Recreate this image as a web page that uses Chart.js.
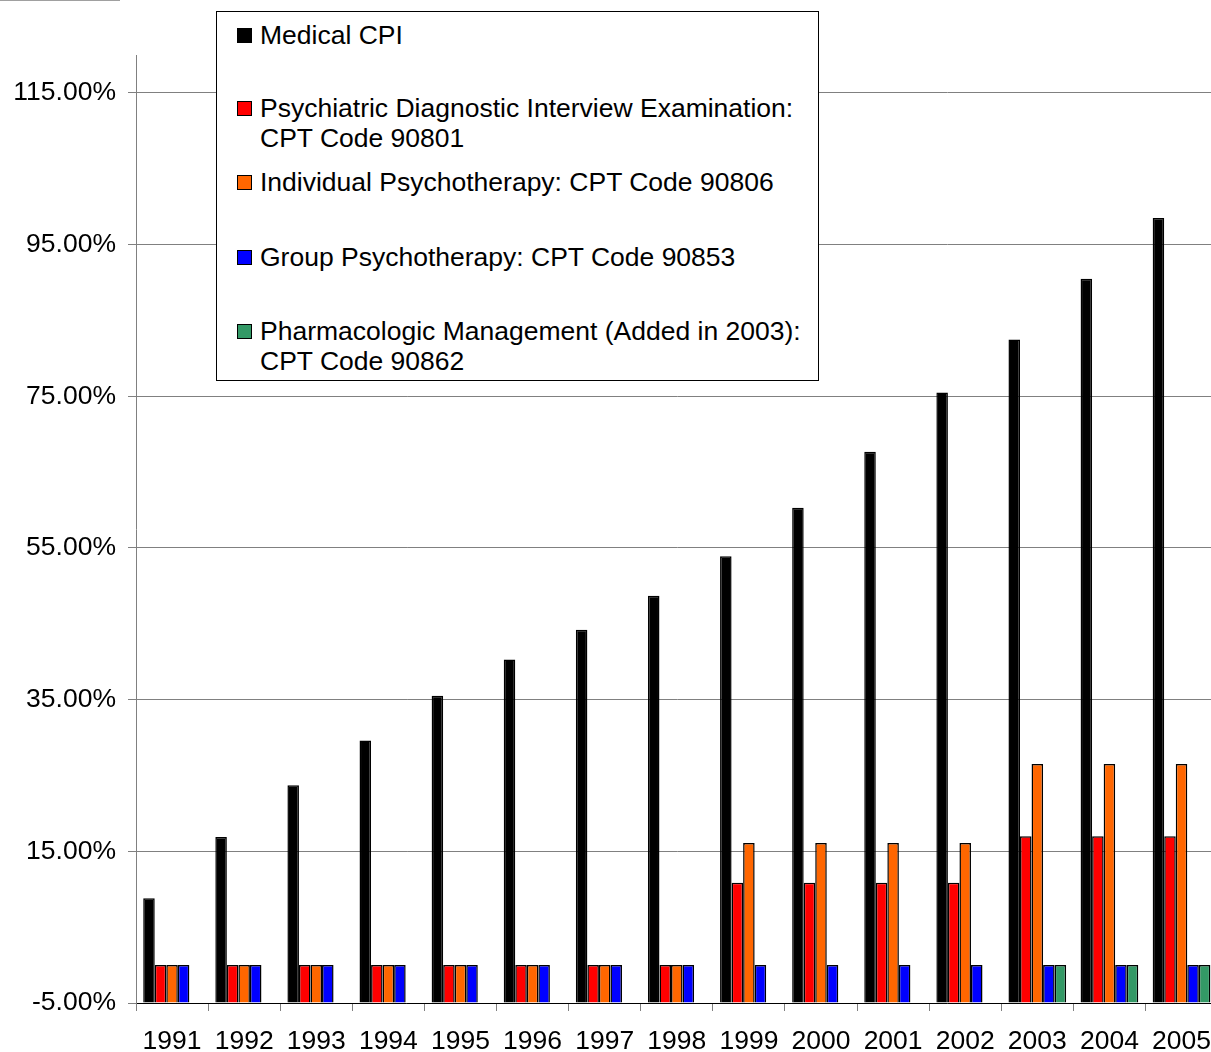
<!DOCTYPE html>
<html>
<head>
<meta charset="utf-8">
<script src="https://cdn.jsdelivr.net/npm/chart.js@4"></script>
<style>
  html, body { margin: 0; padding: 0; background: #fff; overflow: hidden; }
  body { width: 1211px; height: 1052px; position: relative; font-family: "Liberation Sans", Arial, sans-serif; }
  #wrap { position: absolute; left: 0; top: 0; width: 1226px; height: 1052px; }
  #topline { position: absolute; left: 0; top: 0; width: 120px; height: 1px; background: #a0a0a0; }
  #legend { position: absolute; left: 216px; top: 11px; width: 603px; height: 370px; box-sizing: border-box;
            border: 1px solid #000; background: #fff; }
  .item { position: absolute; left: 0; font-size: 26.5px; line-height: 30px; color: #000; }
  .item .sw { position: absolute; left: 20px; width: 13px; height: 13px; border: 1.5px solid #000; }
  .item .txt { position: absolute; left: 43px; white-space: nowrap; }
</style>
</head>
<body>
<div id="wrap"><canvas id="mainPlot" width="1226" height="1052"></canvas></div>
<div id="topline"></div>
<div id="legend"></div>
<script>
// chart data
const years = ["1991", "1992", "1993", "1994", "1995", "1996", "1997", "1998",
               "1999", "2000", "2001", "2002", "2003", "2004", "2005"];
const medicalCpi = [8.8, 16.9, 23.7, 29.6, 35.5, 40.3, 44.2, 48.7, 53.9, 60.3, 67.7, 75.5, 82.5, 90.5, 98.5];
const diagInterview = [0, 0, 0, 0, 0, 0, 0, 0, 10.85, 10.85, 10.85, 10.85, 17.0, 17.0, 17.0];
const indivTherapy = [0, 0, 0, 0, 0, 0, 0, 0, 16.1, 16.1, 16.1, 16.1, 26.5, 26.5, 26.5];
const groupTherapy = [0, 0, 0, 0, 0, 0, 0, 0, 0, 0, 0, 0, 0, 0, 0];
const pharmMgmt = [null, null, null, null, null, null, null, null, null, null, null, null, 0, 0, 0];
const yTicks = [-5, 15, 35, 55, 75, 95, 115];

const seriesNames = [
  ["Medical CPI"],
  ["Psychiatric Diagnostic Interview Examination:", "CPT Code 90801"],
  ["Individual Psychotherapy: CPT Code 90806"],
  ["Group Psychotherapy: CPT Code 90853"],
  ["Pharmacologic Management (Added in 2003):", "CPT Code 90862"]
];
const seriesColors = ["#000000", "#FF0000", "#FF6600", "#0000FF", "#339966"];
const seriesData = [medicalCpi, diagInterview, indivTherapy, groupTherapy, pharmMgmt];

// legend rows (top of each row inside the box)
const legendTops = [8, 81, 155, 230, 304];
const legendDOM = document.getElementById("legend");
seriesNames.forEach((lines, i) => {
  const row = document.createElement("div");
  row.className = "item";
  row.style.top = legendTops[i] + "px";
  const sw = document.createElement("div");
  sw.className = "sw";
  sw.style.top = "8px";
  sw.style.background = seriesColors[i];
  const txt = document.createElement("div");
  txt.className = "txt";
  txt.innerHTML = lines.join("<br>");
  row.appendChild(sw);
  row.appendChild(txt);
  legendDOM.appendChild(row);
});

const font = { family: "'Liberation Sans', Arial, sans-serif", size: 26.5 };

new Chart(document.getElementById("mainPlot"), {
  type: "bar",
  data: {
    labels: years,
    datasets: seriesData.map((d, i) => ({
      label: seriesNames[i].join(" "),
      data: d,
      backgroundColor: seriesColors[i],
      borderColor: "#000000",
      borderWidth: 1.5,
      base: -5,
      categoryPercentage: 0.8,
      barPercentage: 1.0,
    })),
  },
  options: {
    responsive: false,
    animation: false,
    devicePixelRatio: 1,
    layout: { padding: { top: 55, left: 0, right: 0, bottom: 0 } },
    scales: {
      x: {
        offset: true,
        border: { color: "#000000", width: 1 },
        grid: {
          offset: true,
          drawOnChartArea: false,
          tickLength: 8,
          color: "#808080",
        },
        ticks: { color: "#000", font: font, padding: 15, maxRotation: 0, autoSkip: false },
        afterFit: (scale) => { scale.height = 49; },
      },
      y: {
        min: -5,
        max: 120,
        border: { color: "#808080", width: 1 },
        grid: { color: "#808080", tickLength: 8, lineWidth: 1 },
        ticks: {
          color: "#000",
          font: font,
          padding: 12,
          callback: (val) => val.toFixed(2) + "%",
        },
        afterBuildTicks: (scale) => { scale.ticks = yTicks.map((v) => ({ value: v })); },
        afterFit: (scale) => { scale.width = 136; },
      },
    },
    plugins: {
      legend: { display: false },
      tooltip: { enabled: false },
    },
  },
});
</script>
</body>
</html>
